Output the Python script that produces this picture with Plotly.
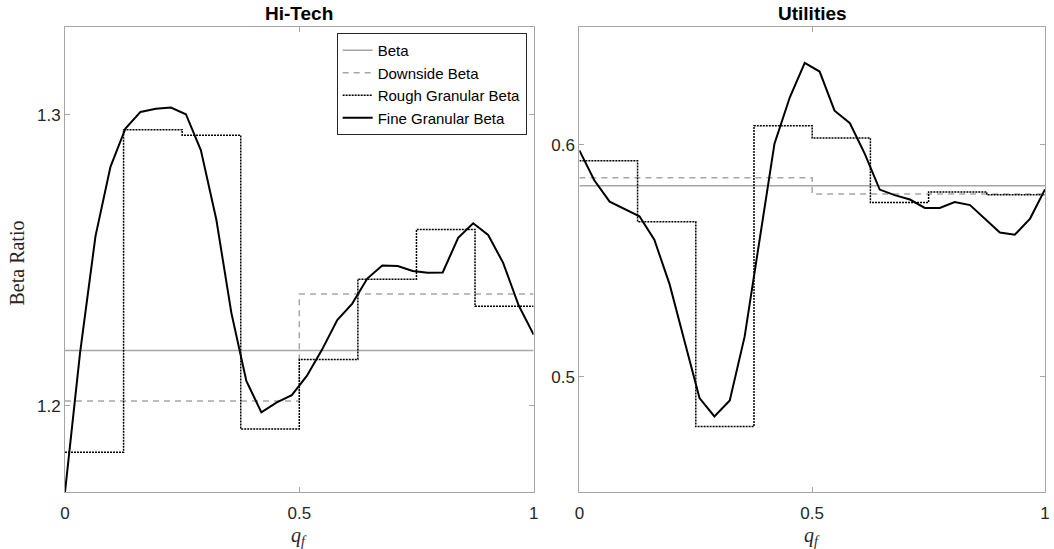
import plotly.graph_objects as go
from plotly.subplots import make_subplots

# ---- data ----
q_fine = [0.0, 0.032, 0.065, 0.097, 0.129, 0.161, 0.194, 0.226, 0.258, 0.290, 0.323,
          0.355, 0.387, 0.419, 0.452, 0.484, 0.516, 0.548, 0.581, 0.613, 0.645, 0.677,
          0.710, 0.742, 0.774, 0.806, 0.839, 0.871, 0.903, 0.935, 0.968, 1.0]
bin_edges = [0.0, 0.125, 0.25, 0.375, 0.5, 0.625, 0.75, 0.875, 1.0]
half_edges = [0.0, 0.5, 1.0]

hitech_beta = 1.2190
hitech_down = [1.2016, 1.2384]
hitech_rough = [1.1840, 1.2949, 1.2930, 1.1920, 1.2159, 1.2435, 1.2606, 1.2342]
hitech_fine = [1.1703, 1.2180, 1.2582, 1.2821, 1.2953, 1.3010, 1.3021, 1.3025, 1.3002, 1.2878,
               1.2639, 1.2319, 1.2085, 1.1977, 1.2011, 1.2036, 1.2102, 1.2191, 1.2294, 1.2351,
               1.2437, 1.2482, 1.2480, 1.2463, 1.2457, 1.2458, 1.2577, 1.2627, 1.2587, 1.2491,
               1.2345, 1.2244]

util_beta = 0.5823
util_down = [0.5858, 0.5788]
util_rough = [0.5931, 0.5668, 0.4785, 0.6082, 0.6029, 0.5751, 0.5797, 0.5785]
util_fine = [0.5976, 0.5847, 0.5755, 0.5722, 0.5692, 0.5591, 0.5397, 0.5152, 0.4908, 0.4829,
             0.4898, 0.5174, 0.5590, 0.6005, 0.6205, 0.6353, 0.6316, 0.6147, 0.6093, 0.5961,
             0.5807, 0.5783, 0.5764, 0.5728, 0.5728, 0.5753, 0.5740, 0.5682, 0.5622, 0.5612,
             0.5682, 0.5808]

titles = ["Hi-Tech", "Utilities"]
yranges = [[1.1703, 1.3302], [0.4503, 0.6508]]
yticks = [[1.2, 1.3], [0.5, 0.6]]
xticks = [0, 0.5, 1]

fig = make_subplots(rows=1, cols=2)

GRAY = "#a6a6a6"
sets = [(hitech_beta, hitech_down, hitech_rough, hitech_fine),
        (util_beta, util_down, util_rough, util_fine)]
for i, (b, d, r, f) in enumerate(sets):
    col = i + 1
    show = (i == 0)
    fig.add_trace(go.Scatter(x=[0, 1], y=[b, b], mode="lines", name="Beta",
                             line=dict(color=GRAY, width=1.5), showlegend=show), row=1, col=col)
    fig.add_trace(go.Scatter(x=half_edges, y=d + [d[-1]], mode="lines", name="Downside Beta",
                             line=dict(color=GRAY, width=1.5, dash="6px,5px", shape="hv"),
                             showlegend=show), row=1, col=col)
    fig.add_trace(go.Scatter(x=bin_edges, y=r + [r[-1]], mode="lines", name="Rough Granular Beta",
                             line=dict(color="black", width=1.5, dash="2px,1px", shape="hv"),
                             showlegend=show), row=1, col=col)
    fig.add_trace(go.Scatter(x=q_fine, y=f, mode="lines", name="Fine Granular Beta",
                             line=dict(color="black", width=2), showlegend=show), row=1, col=col)

W, H = 1054, 549
L, T = 65, 27
R = W - 1050
B = H - 492
pw = W - L - R
ph = H - T - B
d1 = [0, (536 - L) / pw]
d2 = [(582 - L) / pw, 1]

axis_common = dict(showgrid=False, zeroline=False, showline=True, linecolor=GRAY, linewidth=1,
                   mirror="ticks", ticks="inside", ticklen=5, tickcolor=GRAY,
                   tickfont=dict(family="Liberation Sans, Arial", size=17, color="#262626"))

fig.update_xaxes(**axis_common, range=[0, 1], tickvals=xticks, ticktext=["0", "0.5", "1"],
                 ticklabelstandoff=6)
fig.update_xaxes(domain=d1, row=1, col=1)
fig.update_xaxes(domain=d2, row=1, col=2)
for i in range(2):
    fig.update_yaxes(**axis_common, range=yranges[i], tickvals=yticks[i],
                     ticktext=[str(v) for v in yticks[i]], row=1, col=i + 1)

annotations = []
for i, dom in enumerate([d1, d2]):
    cx = (dom[0] + dom[1]) / 2
    annotations.append(dict(x=cx, y=1, xref="paper", yref="paper", xanchor="center",
                            yanchor="bottom", yshift=1,
                            showarrow=False, text="<b>" + titles[i] + "</b>",
                            font=dict(family="Liberation Sans, Arial", size=19, color="black")))
    annotations.append(dict(x=cx, y=0, xref="paper", yref="paper", xanchor="center",
                            yanchor="top", yshift=-30,
                            showarrow=False, text="<i>q</i><sub><i>f</i></sub>",
                            font=dict(family="Liberation Serif, Times New Roman", size=20,
                                      color="#262626")))
annotations.append(dict(x=0, y=0.5, xref="paper", yref="paper", xanchor="right",
                        yanchor="middle", xshift=-36, yshift=-4,
                        showarrow=False, text="Beta Ratio", textangle=-90,
                        font=dict(family="Liberation Serif, Times New Roman", size=20,
                                  color="#262626")))

fig.update_layout(
    width=W, height=H, margin=dict(l=L, r=R, t=T, b=B),
    plot_bgcolor="white", paper_bgcolor="white",
    annotations=annotations,
    legend=dict(x=(529 - L) / pw, y=1 - (33 - T) / ph, xanchor="right", yanchor="top",
                bgcolor="white", bordercolor="#262626", borderwidth=1,
                font=dict(family="Liberation Sans, Arial", size=15, color="black"),
                itemwidth=30, tracegroupgap=0),
)

fig.write_html(
    "out.html",
    config={"displayModeBar": False},
    post_script=("document.body.style.margin='0px';"
                 "document.body.style.overflow='hidden';"
                 "document.documentElement.style.overflow='hidden';"),
)
